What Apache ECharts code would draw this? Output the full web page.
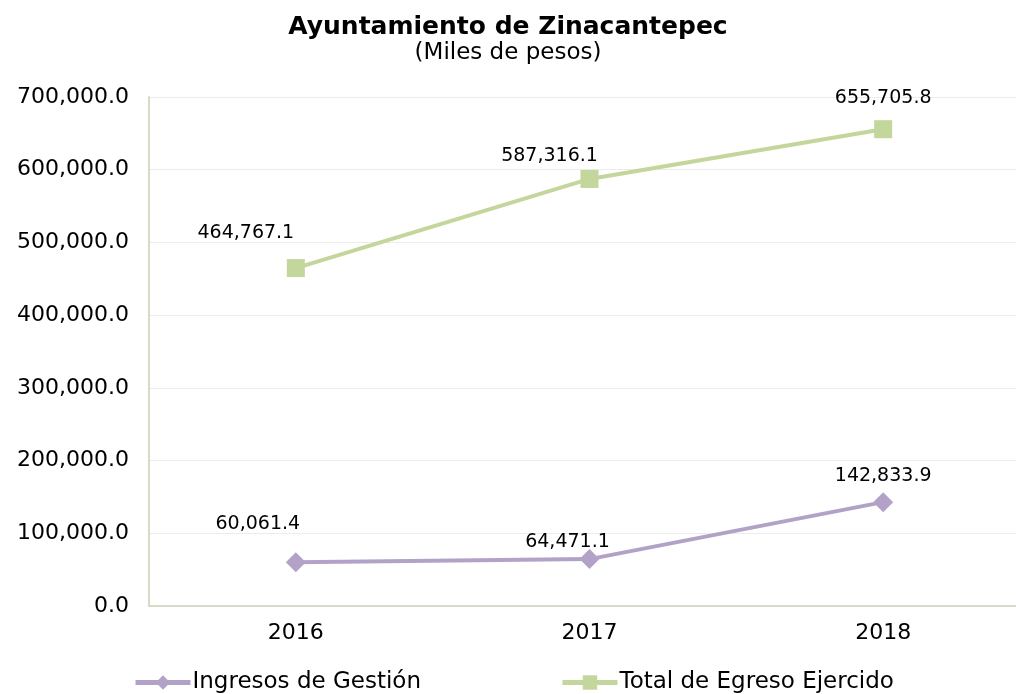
<!DOCTYPE html>
<html>
<head>
<meta charset="utf-8">
<script src="https://cdn.jsdelivr.net/npm/echarts@6/dist/echarts.min.js"></script>
<style>
  html, body { margin: 0; padding: 0; background: #fff; }
  #main { width: 1016px; height: 694px; }
</style>
</head>
<body>
<div id="main"></div>
<script>
  var years = ["2016", "2017", "2018"];
  var ingresos = [60061.4, 64471.1, 142833.9];
  var egresos = [464767.1, 587316.1, 655705.8];
  // label offsets per point (as in the original layout)
  var ingresosOffsets = [[-38, -14], [-22, 7], [0, -2]];
  var egresosOffsets = [[-50, -11], [-40, 1], [0, -8]];

  function fmt(v) {
    return Number(v).toLocaleString("en-US", { minimumFractionDigits: 1, maximumFractionDigits: 1 });
  }

  function withLabels(values, offsets) {
    return values.map(function (v, i) {
      return { value: v, label: { offset: offsets[i] } };
    });
  }

  var chart = echarts.init(document.getElementById("main"));
  var font = "'DejaVu Sans', sans-serif";

  chart.setOption({
    animation: false,
    textStyle: { fontFamily: font },
    title: {
      text: "Ayuntamiento de Zinacantepec",
      subtext: "(Miles de pesos)",
      left: "center",
      top: 10,
      itemGap: 2,
      textStyle: { fontSize: 25, fontWeight: "bold", color: "#000", fontFamily: font },
      subtextStyle: { fontSize: 23, color: "#000", fontFamily: font }
    },
    legend: {
      top: 666,
      left: 128,
      itemGap: 139,
      itemWidth: 55,
      itemHeight: 18,
      lineStyle: { width: 5 },
      textStyle: { fontSize: 23, color: "#000", fontFamily: font, padding: [0, 0, 0, -3] },
      data: ["Ingresos de Gestión", "Total de Egreso Ejercido"]
    },
    grid: { left: 149, width: 881, top: 97, bottom: 88, outerBoundsMode: "none" },
    xAxis: {
      type: "category",
      data: years,
      boundaryGap: true,
      axisLine: { lineStyle: { color: "#d9d9c8", width: 2 } },
      axisTick: { show: false },
      axisLabel: { fontSize: 22, color: "#000", margin: 16 }
    },
    yAxis: {
      type: "value",
      min: 0,
      max: 700000,
      interval: 100000,
      axisLine: { show: true, lineStyle: { color: "#d9d9c8", width: 2 } },
      axisTick: { show: false },
      splitLine: { lineStyle: { color: "#ececec" } },
      axisLabel: { fontSize: 22, color: "#000", margin: 20, formatter: fmt }
    },
    series: [
      {
        name: "Ingresos de Gestión",
        type: "line",
        data: withLabels(ingresos, ingresosOffsets),
        symbol: "diamond",
        symbolSize: 20,
        lineStyle: { color: "#b3a2c7", width: 4 },
        itemStyle: { color: "#b3a2c7" },
        label: { show: true, position: "top", fontSize: 19, color: "#000", formatter: function (p) { return fmt(p.value); } }
      },
      {
        name: "Total de Egreso Ejercido",
        type: "line",
        data: withLabels(egresos, egresosOffsets),
        symbol: "rect",
        symbolSize: 18,
        lineStyle: { color: "#c3d69b", width: 4 },
        itemStyle: { color: "#c3d69b" },
        label: { show: true, position: "top", fontSize: 19, color: "#000", formatter: function (p) { return fmt(p.value); } }
      }
    ]
  });
</script>
</body>
</html>
